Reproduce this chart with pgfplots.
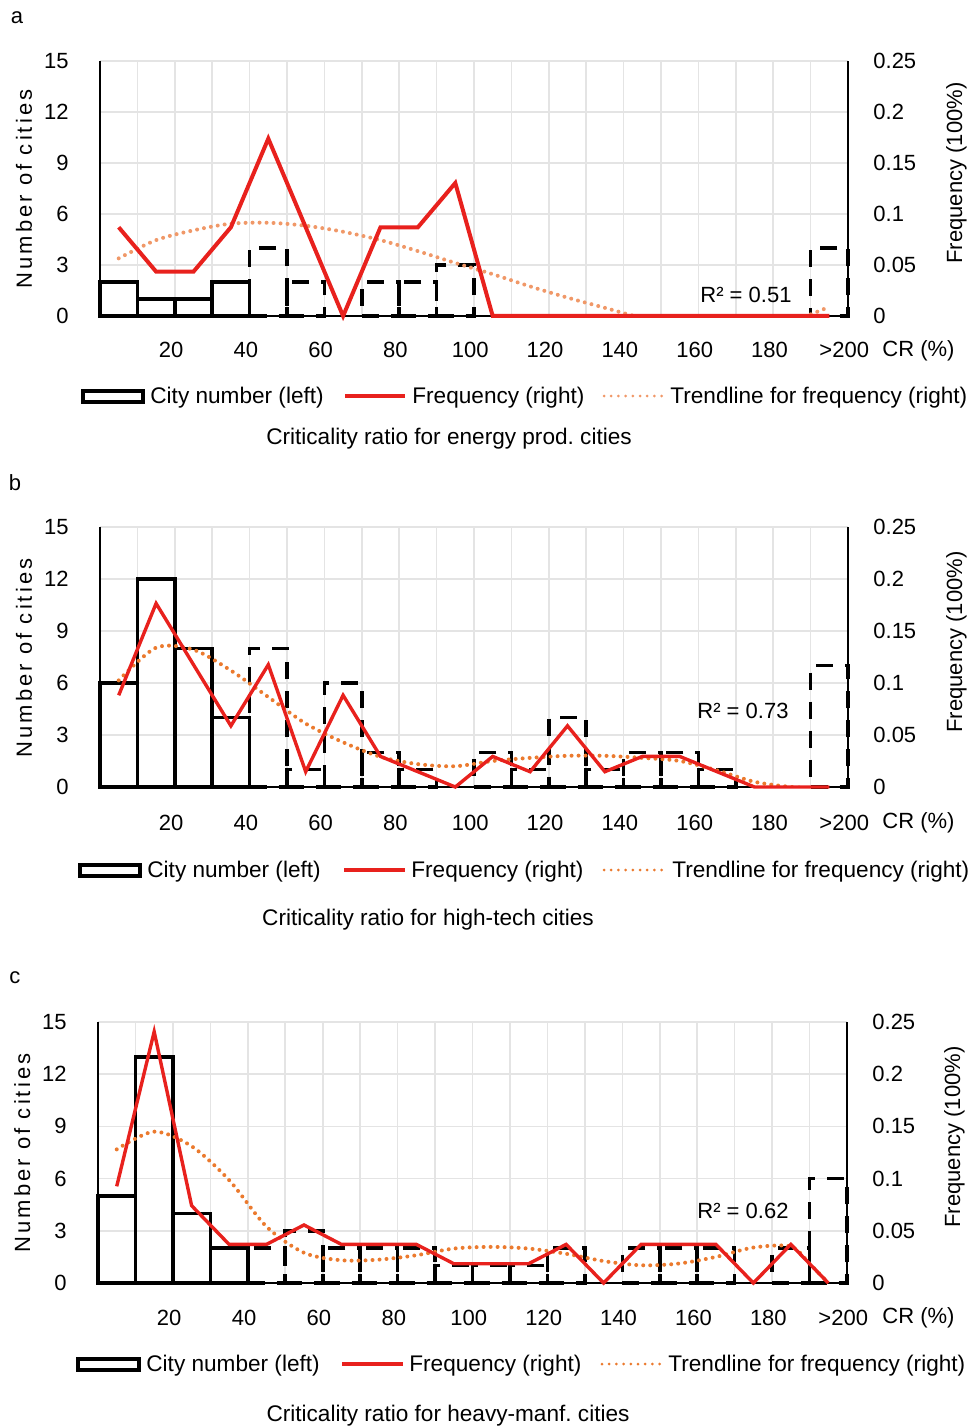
\documentclass[border=0pt]{standalone}
\usepackage{pgfplots}
\pgfplotsset{compat=1.18}
\usepackage{fontspec}
\setmainfont{Liberation Sans}
\newfontfamily\spaced[LetterSpace=14]{Liberation Sans}
\definecolor{freqred}{HTML}{E8211D}
\definecolor{trendA}{HTML}{F09868}
\definecolor{trendB}{HTML}{EB7A2E}
\definecolor{gridgray}{HTML}{E4E4E4}
\newcommand{\fs}{\fontsize{11}{13}\selectfont}
\newcommand{\fl}{\fontsize{11.3}{13}\selectfont}
\frenchspacing

\tikzset{
  freq/.style={freqred, line width=1.7pt, line join=miter},
  trend/.style={line width=2pt, dash pattern=on 0pt off 3.5pt,
    line cap=round, smooth},
  legdots/.style={line width=1.5pt, dash pattern=on 0pt off 3.6pt, line cap=round},
}
% bins: 0-10, 10-20, ..., 180-190 (x = 0.5 ... 18.5), >200 at x = 19.5
\pgfplotsset{
  base/.style={scale only axis, xmin=0, xmax=20, anchor=south west,
    tick label style={font=\fs},
    major tick length=0pt, minor tick length=0pt},
  leftax/.style={base, ymin=0, ymax=15,
    ytick={0,3,6,9,12,15}, yticklabels={0,3,6,9,12,15},
    xtick={1.9,3.9,5.9,7.9,9.9,11.9,13.9,15.9,17.9,19.9},
    xticklabels={20,40,60,80,100,120,140,160,180,>200},
    minor xtick={1,2,...,19},
    xminorgrids=true, ymajorgrids=true, xmajorgrids=false,
    major grid style={draw=gridgray, line width=0.8pt},
    minor grid style={draw=gridgray, line width=0.8pt},
    axis x line*=bottom, axis y line*=left,
    axis line style={line width=0.7pt, black},
    yticklabel style={anchor=east, inner sep=0pt, xshift=-15.5pt},
    clip=false},
  trendax/.style={base, ymin=0, ymax=0.25, hide axis},
  rightax/.style={base, ymin=0, ymax=0.25,
    axis x line=none, axis y line*=right,
    ytick={0,0.05,0.1,0.15,0.2,0.25},
    yticklabels={0,0.05,0.1,0.15,0.2,0.25},
    scaled y ticks=false,
    axis line style={line width=0.7pt, black},
    yticklabel style={anchor=west, inner sep=0pt, xshift=12.5pt},
    clip=false},
  cnt/.style={ybar, bar width=1, bar shift=0pt, draw=black, fill=none,
    line width=1.8pt},
  cntdash/.style={cnt, dash pattern=on 8.5pt off 6pt},
}

\begin{document}
\begin{tikzpicture}
\useasboundingbox (0,0) rectangle (487pt,-714pt);

% ---------------- panel a ----------------
\begin{axis}[leftax, at={(50pt,-158pt)}, width=374pt, height=127.5pt,
  xticklabel style={anchor=base, inner sep=0pt, yshift=-20.5pt}]
\addplot[cnt] coordinates {(0.5,2) (1.5,1) (2.5,1) (3.5,2)};
\addplot[cntdash] coordinates {(4.5,4) (5.5,2) (7.5,2) (8.5,2) (9.5,3) (19.5,4)};
\end{axis}
\begin{axis}[trendax, at={(50pt,-158pt)}, width=374pt, height=127.5pt]
\addplot[trend, trendA] coordinates {
  (0.5,0.0565) (1.5,0.0744) (2.5,0.084) (3.5,0.0905) (4.5,0.0914)
  (5.5,0.0885) (6.5,0.0826) (7.5,0.0744) (8.5,0.0636) (9.5,0.052)
  (10.5,0.041) (11.5,0.029) (12.5,0.018) (13.5,0.008) (14.5,-0.002)
  (15.5,-0.009) (16.5,-0.013) (17.5,-0.012) (18.5,-0.005) (19.5,0.009)};
\end{axis}
\begin{axis}[rightax, at={(50pt,-158pt)}, width=374pt, height=127.5pt]
\addplot[freq, line width=2pt] coordinates {
  (0.5,0.0870) (1.5,0.0435) (2.5,0.0435) (3.5,0.0870) (4.5,0.1739)
  (5.5,0.0870) (6.5,0) (7.5,0.0870) (8.5,0.0870) (9.5,0.1304)
  (10.5,0) (11.5,0) (12.5,0) (13.5,0) (14.5,0) (15.5,0) (16.5,0)
  (17.5,0) (18.5,0) (19.5,0)};
\end{axis}
\node[font=\fs] at (8.5pt,-9pt) {a};
\node[font=\spaced\fontsize{11}{13}\selectfont, rotate=90, anchor=base] at (16pt,-94.5pt) {Number of cities};
\node[font=\fs, rotate=90, anchor=base] at (481pt,-86.5pt) {Frequency (100\%)};
\node[font=\fs, anchor=base west, inner sep=0pt] at (350pt,-151.5pt) {R² = 0.51};
\node[font=\fs, anchor=base west, inner sep=0pt] at (441pt,-178.5pt) {CR (\%)};
\draw[black, line width=1.7pt] (41.5pt,-195.5pt) rectangle (71.5pt,-201pt);
\node[font=\fl, anchor=base west, inner sep=0pt] at (75pt,-201.5pt) {City number (left)};
\draw[freq, line width=2pt] (172.5pt,-198pt) -- (202.5pt,-198pt);
\node[font=\fl, anchor=base west, inner sep=0pt] at (206pt,-201.5pt) {Frequency (right)};
\draw[trendA, legdots] (302pt,-198pt) -- (331pt,-198pt);
\node[font=\fl, anchor=base west, inner sep=0pt] at (335pt,-201.5pt) {Trendline for frequency (right)};
\node[font=\fl, anchor=base, inner sep=0pt] at (224.5pt,-222pt) {Criticality ratio for energy prod. cities};

% ---------------- panel b ----------------
\begin{axis}[leftax, at={(50pt,-393.5pt)}, width=374pt, height=130pt,
  xticklabel style={anchor=base, inner sep=0pt, yshift=-21.5pt}]
\addplot[cnt] coordinates {(0.5,6) (1.5,12) (2.5,8) (3.5,4)};
\addplot[cntdash] coordinates {(4.5,8) (5.5,1) (6.5,6) (7.5,2) (8.5,1)
  (10.5,2) (11.5,1) (12.5,4) (13.5,1) (14.5,2) (15.5,2) (16.5,1) (19.5,7)};
\end{axis}
\begin{axis}[trendax, at={(50pt,-393.5pt)}, width=374pt, height=130pt]
\addplot[trend, trendB] coordinates {
  (0.5,0.1025) (1.5,0.134) (2.5,0.132) (3.5,0.112) (4.5,0.0865)
  (5.5,0.061) (6.5,0.043) (7.5,0.029) (8.5,0.022) (9.5,0.020)
  (10.5,0.025) (11.5,0.028) (12.5,0.030) (13.5,0.030) (14.5,0.028)
  (15.5,0.025) (16.5,0.016) (17.5,0.005) (18.5,0.000) (19.5,-0.002)};
\end{axis}
\begin{axis}[rightax, at={(50pt,-393.5pt)}, width=374pt, height=130pt]
\addplot[freq] coordinates {
  (0.5,0.0882) (1.5,0.1765) (2.5,0.1176) (3.5,0.0588) (4.5,0.1176)
  (5.5,0.0147) (6.5,0.0882) (7.5,0.0294) (8.5,0.0147) (9.5,0)
  (10.5,0.0294) (11.5,0.0147) (12.5,0.0588) (13.5,0.0147) (14.5,0.0294)
  (15.5,0.0294) (16.5,0.0147) (17.5,0) (18.5,0) (19.5,0)};
\end{axis}
\node[font=\fs] at (7.5pt,-241.5pt) {b};
\node[font=\spaced\fontsize{11}{13}\selectfont, rotate=90, anchor=base] at (16pt,-329pt) {Number of cities};
\node[font=\fs, rotate=90, anchor=base] at (481pt,-321pt) {Frequency (100\%)};
\node[font=\fs, anchor=base west, inner sep=0pt] at (348.5pt,-359pt) {R² = 0.73};
\node[font=\fs, anchor=base west, inner sep=0pt] at (441pt,-414pt) {CR (\%)};
\draw[black, line width=1.7pt] (40pt,-432.5pt) rectangle (70pt,-438pt);
\node[font=\fl, anchor=base west, inner sep=0pt] at (73.5pt,-438.5pt) {City number (left)};
\draw[freq] (172pt,-435pt) -- (202.5pt,-435pt);
\node[font=\fl, anchor=base west, inner sep=0pt] at (205.5pt,-438.5pt) {Frequency (right)};
\draw[trendB, legdots] (302pt,-435pt) -- (332pt,-435pt);
\node[font=\fl, anchor=base west, inner sep=0pt] at (336pt,-438.5pt) {Trendline for frequency (right)};
\node[font=\fl, anchor=base, inner sep=0pt] at (214pt,-462.5pt) {Criticality ratio for high-tech cities};

% ---------------- panel c ----------------
\begin{axis}[leftax, at={(49pt,-641.5pt)}, width=374.5pt, height=130.5pt,
  xticklabel style={anchor=base, inner sep=0pt, yshift=-21pt}]
\addplot[cnt] coordinates {(0.5,5) (1.5,13) (2.5,4) (3.5,2)};
\addplot[cntdash] coordinates {(4.5,2) (5.5,3) (6.5,2) (7.5,2) (8.5,2)
  (9.5,1) (10.5,1) (11.5,1) (12.5,2) (14.5,2) (15.5,2) (16.5,2) (18.5,2) (19.5,6)};
\end{axis}
\begin{axis}[trendax, at={(49pt,-641.5pt)}, width=374.5pt, height=130.5pt]
\addplot[trend, trendB] coordinates {
  (0.5,0.128) (1.5,0.145) (2.5,0.131) (3.5,0.0986) (4.5,0.054)
  (5.5,0.029) (6.5,0.0218) (7.5,0.0224) (8.5,0.0266) (9.5,0.033)
  (10.5,0.0346) (11.5,0.033) (12.5,0.028) (13.5,0.021) (14.5,0.017)
  (15.5,0.0186) (16.5,0.025) (17.5,0.034) (18.5,0.035) (19.0,0.0186) (19.5,0.0)};
\end{axis}
\begin{axis}[rightax, at={(49pt,-641.5pt)}, width=374.5pt, height=130.5pt]
\addplot[freq] coordinates {
  (0.5,0.0926) (1.5,0.2407) (2.5,0.0741) (3.5,0.0370) (4.5,0.0370)
  (5.5,0.0556) (6.5,0.0370) (7.5,0.0370) (8.5,0.0370) (9.5,0.0185)
  (10.5,0.0185) (11.5,0.0185) (12.5,0.0370) (13.5,0) (14.5,0.0370)
  (15.5,0.0370) (16.5,0.0370) (17.5,0) (18.5,0.0370) (19.5,0)};
\end{axis}
\node[font=\fs] at (7.5pt,-489pt) {c};
\node[font=\spaced\fontsize{11}{13}\selectfont, rotate=90, anchor=base] at (15pt,-576.5pt) {Number of cities};
\node[font=\fs, rotate=90, anchor=base] at (480pt,-568.5pt) {Frequency (100\%)};
\node[font=\fs, anchor=base west, inner sep=0pt] at (348.5pt,-609pt) {R² = 0.62};
\node[font=\fs, anchor=base west, inner sep=0pt] at (441pt,-661.5pt) {CR (\%)};
\draw[black, line width=1.7pt] (39pt,-679.5pt) rectangle (69.5pt,-685pt);
\node[font=\fl, anchor=base west, inner sep=0pt] at (73pt,-685.5pt) {City number (left)};
\draw[freq] (171pt,-682pt) -- (201.5pt,-682pt);
\node[font=\fl, anchor=base west, inner sep=0pt] at (204.5pt,-685.5pt) {Frequency (right)};
\draw[trendB, legdots] (301pt,-682pt) -- (331pt,-682pt);
\node[font=\fl, anchor=base west, inner sep=0pt] at (334pt,-685.5pt) {Trendline for frequency (right)};
\node[font=\fl, anchor=base, inner sep=0pt] at (224pt,-710.5pt) {Criticality ratio for heavy-manf. cities};
\end{tikzpicture}
\end{document}
